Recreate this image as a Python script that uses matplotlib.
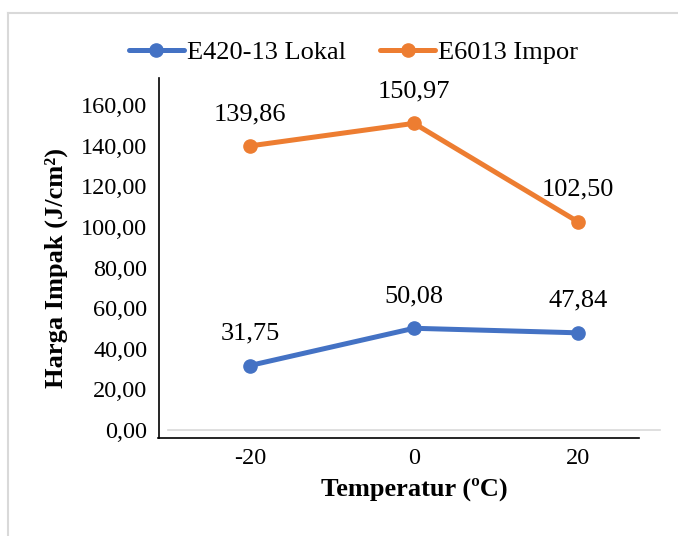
import matplotlib
matplotlib.use("Agg")
import matplotlib.pyplot as plt
from matplotlib.lines import Line2D

plt.rcParams['font.family'] = ['Liberation Serif', 'DejaVu Serif']

suhu = ['-20', '0', '20']
lokal = [31.75, 50.08, 47.84]
impor = [139.86, 150.97, 102.50]
yticks = [0, 20, 40, 60, 80, 100, 120, 140, 160]

biru = '#4472C4'
oranye = '#ED7D31'
fs_tick = 17.5
fs = 19

fig = plt.figure(figsize=(6.78, 5.36), dpi=100)
ax = fig.add_axes([168 / 678, 106 / 536, 492 / 678, 325 / 536])

x = list(range(len(suhu)))
ax.plot(x, lokal, color=biru, lw=3.6, marker='o', ms=9.5, label='E420-13 Lokal',
        solid_capstyle='round')
ax.plot(x, impor, color=oranye, lw=3.6, marker='o', ms=9.5, label='E6013 Impor',
        solid_capstyle='round')

def fmt(v):
    return f'{v:.2f}'.replace('.', ',')

for seri in (lokal, impor):
    for i, v in enumerate(seri):
        ax.annotate(fmt(v), (i, v), xytext=(0, 23), textcoords='offset points',
                    ha='center', va='center', fontsize=fs)

ax.set_xlim(-0.5, 2.5)
ax.set_ylim(0, 160)
ax.set_xticks(x)
ax.set_xticklabels(suhu)
ax.set_yticks(yticks)
ax.set_yticklabels([fmt(t) for t in yticks])
ax.tick_params(length=0, labelsize=fs_tick)
ax.tick_params(axis='y', pad=15)
ax.tick_params(axis='x', pad=13)

for s in ('top', 'right', 'left'):
    ax.spines[s].set_visible(False)
ax.spines['bottom'].set_color('#d9d9d9')
ax.spines['bottom'].set_linewidth(1.2)

ax.set_xlabel('Temperatur (ºC)', fontsize=fs, fontweight='bold', labelpad=6)
ax.set_ylabel('Harga Impak (J/cm²)', fontsize=fs, fontweight='bold', labelpad=9)

leg = fig.legend(loc='center', bbox_to_anchor=(0.521, 1 - 52 / 536), ncol=2,
                 frameon=False, fontsize=fs, handlelength=2.1, handletextpad=0.1,
                 columnspacing=1.3, borderaxespad=0)

# garis bingkai
W, H = 678, 536
fig.add_artist(Line2D([158.5 / W, 158.5 / W], [1 - 78 / H, 1 - 438 / H],
                      color='black', lw=1.2, transform=fig.transFigure))
fig.add_artist(Line2D([158 / W, 639 / W], [1 - 438 / H, 1 - 438 / H],
                      color='black', lw=1.2, transform=fig.transFigure))
fig.add_artist(Line2D([8 / W, 8 / W], [0, 1 - 13 / H],
                      color='#d9d9d9', lw=1.5, transform=fig.transFigure))
fig.add_artist(Line2D([8 / W, 1], [1 - 13 / H, 1 - 13 / H],
                      color='#d9d9d9', lw=1.5, transform=fig.transFigure))

fig.savefig('out.png', dpi=100)
